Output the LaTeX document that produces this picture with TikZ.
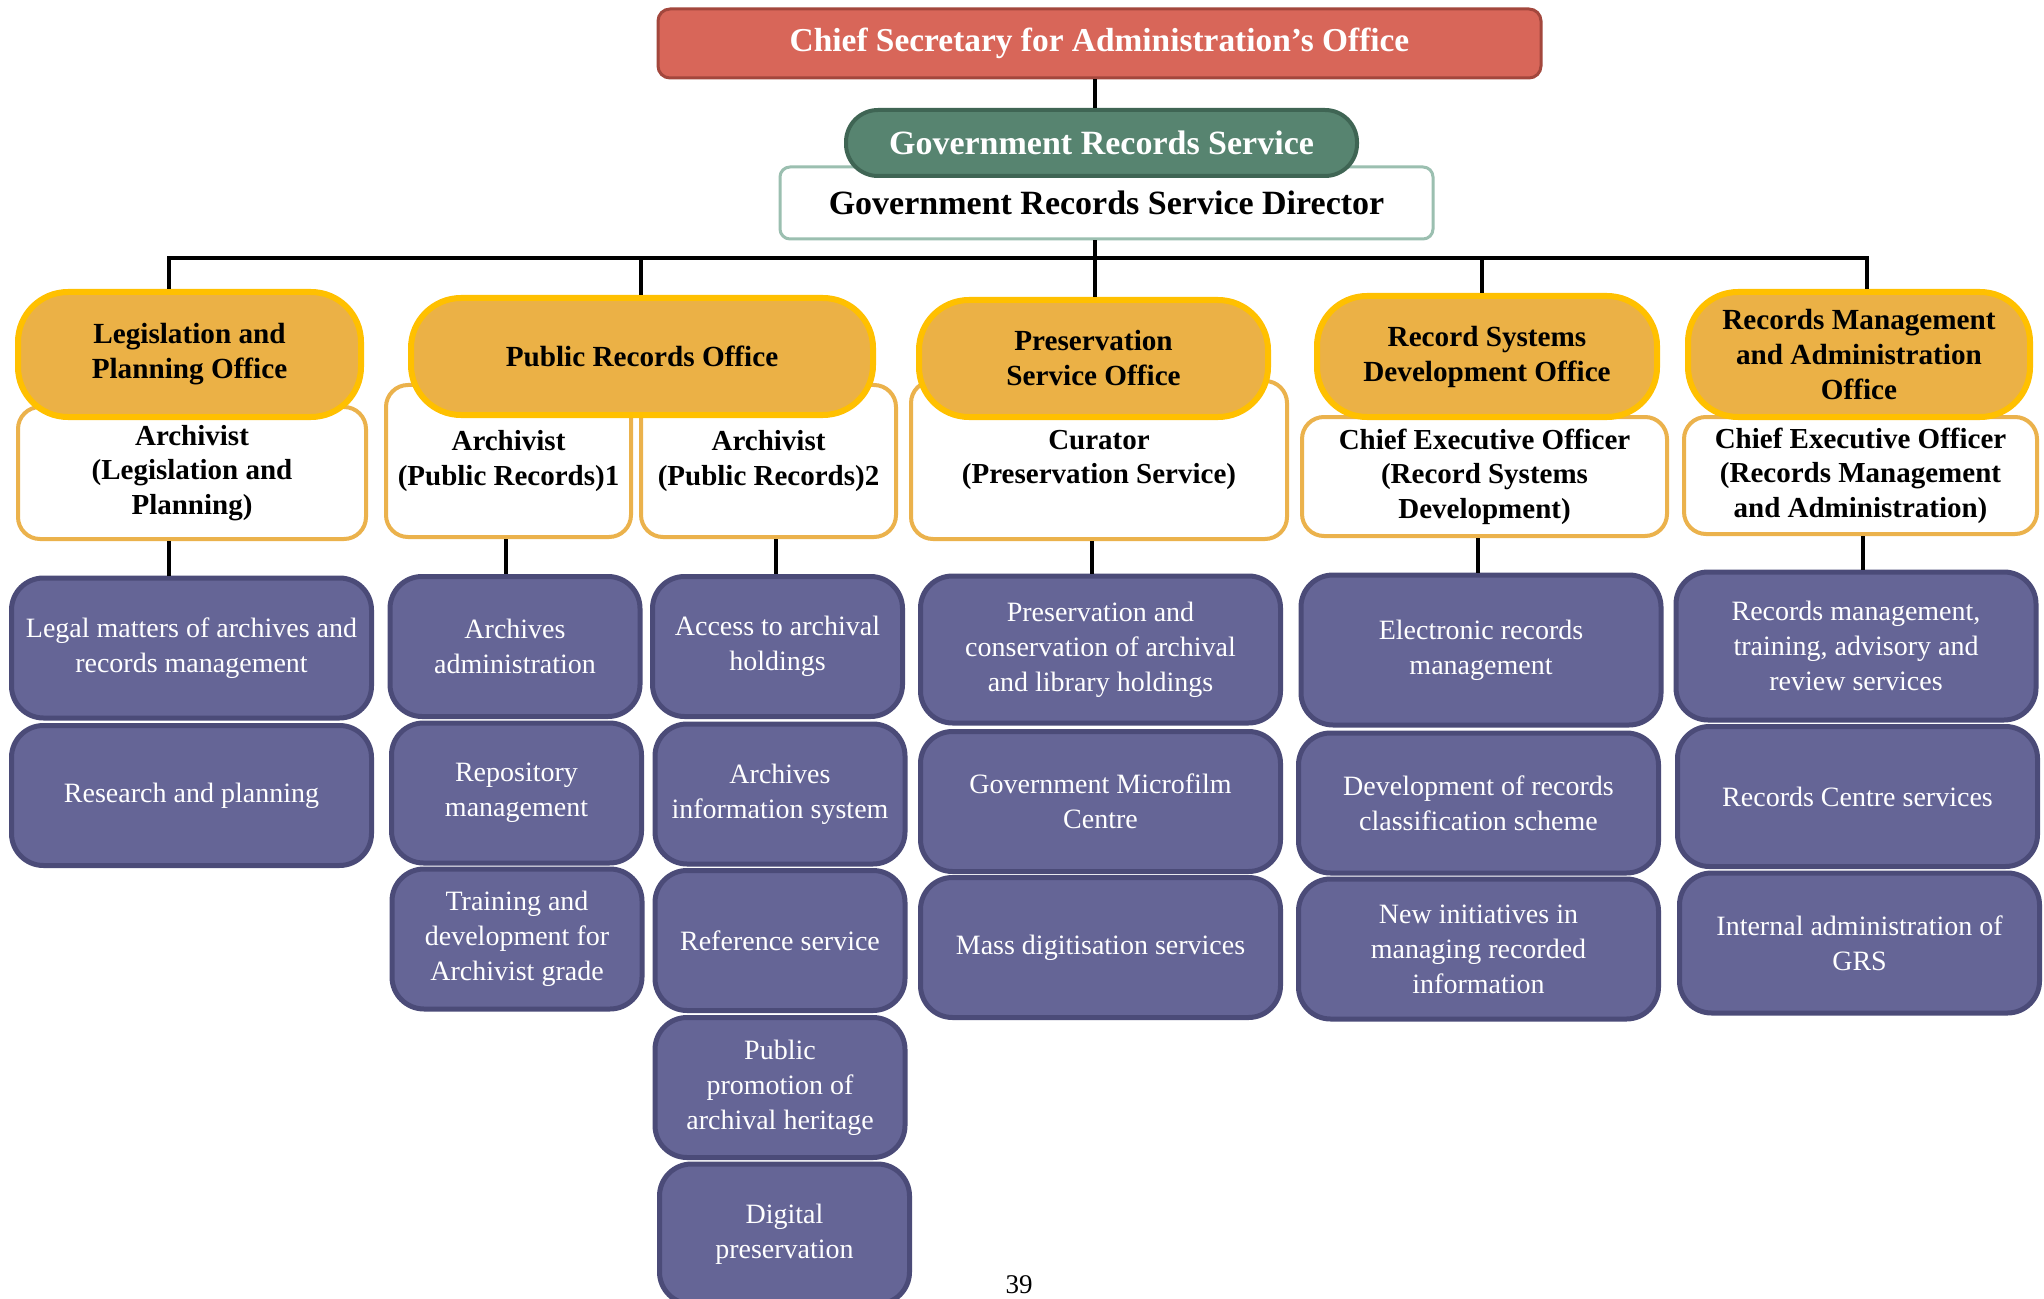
\documentclass[tikz,border=0pt]{standalone}
\usepackage{fontspec}
\setmainfont{Liberation Serif}
\definecolor{csred}{HTML}{D86659}
\definecolor{csedge}{HTML}{A3473D}
\definecolor{grsgreen}{HTML}{578470}
\definecolor{grsedge}{HTML}{3F6554}
\definecolor{diredge}{HTML}{9BBFB0}
\definecolor{officefill}{HTML}{EBB146}
\definecolor{officeedge}{HTML}{FFC000}
\definecolor{postedge}{HTML}{EBB24C}
\definecolor{taskfill}{HTML}{656596}
\definecolor{taskedge}{HTML}{4B4B78}
\begin{document}
\begin{tikzpicture}[x=0.5pt, y=-0.5pt, line width=1.6pt,
            head/.style={draw=csedge, fill=csred, line width=1.5pt, rounded corners=6pt, minimum width=441.5pt, minimum height=34.5pt, text=white, font=\bfseries\fontsize{16.7}{20}\selectfont},
            service/.style={draw=grsedge, fill=grsgreen, line width=2pt, rounded corners=16pt, minimum width=255.5pt, minimum height=33pt, text=white, font=\bfseries\fontsize{17}{20}\selectfont},
            director/.style={draw=diredge, fill=white, line width=1.5pt, rounded corners=5pt, minimum width=326.5pt, minimum height=36pt, font=\bfseries\fontsize{17}{20}\selectfont},
            office/.style={draw=officeedge, fill=officefill, line width=3pt, rounded corners=25pt, align=center, font=\bfseries\fontsize{14.6}{17.5}\selectfont},
            post/.style={draw=postedge, fill=white, line width=2pt, rounded corners=11pt, align=center, inner sep=3pt, font=\bfseries\fontsize{14.5}{17.3}\selectfont},
            task/.style={draw=taskedge, fill=taskfill, line width=2.5pt, rounded corners=16pt, minimum width=125pt, minimum height=70pt, align=center, text=white, font=\fontsize{14}{17.5}\selectfont},
            wide/.style={minimum width=180pt}
            ]
            \clip (0,0) rectangle (2044,1299);
            \fill[white] (0,0) rectangle (2044,1299);

            \node[head] (cs) at (1099.5,43.5) {Chief Secretary for Administration’s Office};
            \node[director] (dir) at (1106.5,203) {Government Records Service Director};
            \node[service] (grs) at (1101.5,143) {Government Records Service};

            \node[post, minimum width=174pt, minimum height=66pt] (p1) at (192,473) {Archivist\\(Legislation and\\Planning)};
            \node[post, minimum width=122.5pt, minimum height=76pt] (p2) at (508.5,461) {Archivist\\(Public Records)1};
            \node[post, minimum width=127.5pt, minimum height=76pt] (p3) at (768.5,461) {Archivist\\(Public Records)2};
            \node[post, minimum width=188pt, minimum height=79pt] (p4) at (1099,460) {Curator\\(Preservation Service)};
            \node[post, minimum width=182.5pt, minimum height=59.5pt] (p5) at (1484.5,476.5) {Chief Executive Officer\\(Record Systems\\Development)};
            \node[post, minimum width=176.5pt, minimum height=58.5pt] (p6) at (1860.5,475.5) {Chief Executive Officer\\(Records Management\\and Administration)};

            \node[office, minimum width=171.5pt, minimum height=62.5pt] (o1) at (189.5,354.5) {Legislation and\\Planning Office};
            \node[office, minimum width=231pt, minimum height=58.5pt] (o2) at (642,356.5) {Public Records Office};
            \node[office, minimum width=174.5pt, minimum height=58.5pt] (o3) at (1093.5,358.5) {Preservation\\Service Office};
            \node[office, minimum width=170pt, minimum height=60.5pt] (o4) at (1487,356.5) {Record Systems\\Development Office};
            \node[office, minimum width=171pt, minimum height=62.5pt] (o5) at (1859,354.5) {Records Management\\and Administration\\Office};

            \node[task, wide] (t11) at (191.5,648) {Legal matters of archives and\\records management};
            \node[task, wide] (t12) at (191.5,795.5) {Research and planning};

            \node[task] (t21) at (515,646.5) {Archives\\administration};
            \node[task] (t22) at (516.5,793) {Repository\\management};
            \node[task] (t23) at (517,939) {Training and\\development for\\Archivist grade};

            \node[task] (t31) at (777.5,646.5) {Access to archival\\holdings};
            \node[task] (t32) at (780,794) {Archives\\information system};
            \node[task] (t33) at (780,940.5) {Reference service};
            \node[task] (t34) at (780,1087.5) {Public\\promotion of\\archival heritage};
            \node[task] (t35) at (784.5,1234) {Digital\\preservation};

            \node[task, wide, minimum height=73.5pt] (t41) at (1100.5,649.5) {Preservation and\\conservation of archival\\and library holdings};
            \node[task, wide] (t42) at (1100.5,801.5) {Government Microfilm\\Centre};
            \node[task, wide] (t43) at (1100.5,947.5) {Mass digitisation services};

            \node[task, wide, minimum height=75pt] (t51) at (1481,650) {Electronic records\\management};
            \node[task, wide] (t52) at (1478.5,803) {Development of records\\classification scheme};
            \node[task, wide] (t53) at (1478.5,949) {New initiatives in\\managing recorded\\information};

            \node[task, wide, minimum height=74pt] (t61) at (1856,646) {Records management,\\training, advisory and\\review services};
            \node[task, wide] (t62) at (1857.5,796.5) {Records Centre services};
            \node[task, wide] (t63) at (1859.5,943) {Internal administration of\\GRS};

            \node[inner sep=0pt, font=\fontsize{13.5}{16}\selectfont] (pg) at (1019,1285) {39};

            \coordinate (b1) at (169,258);
            \coordinate (b2) at (641,258);
            \coordinate (b3) at (1095,258);
            \coordinate (b4) at (1482,258);
            \coordinate (b5) at (1867,258);
            \coordinate (d1) at (169,558);
            \coordinate (d2) at (506,558);
            \coordinate (d3) at (776,558);
            \coordinate (d4) at (1092,558);
            \coordinate (d5) at (1478,558);
            \coordinate (d6) at (1863,558);

            \draw (b3 |- cs.south) -- (b3 |- grs.north);
            \draw (b3 |- dir.south) -- (b3) -- (b3 |- o3.north);
            \draw (b1 |- o1.north) -- (b1) -- (b5) -- (b5 |- o5.north);
            \draw (b2) -- (b2 |- o2.north);
            \draw (b4) -- (b4 |- o4.north);

            \draw (d1 |- p1.south) -- (d1 |- t11.north);
            \draw (d2 |- p2.south) -- (d2 |- t21.north);
            \draw (d3 |- p3.south) -- (d3 |- t31.north);
            \draw (d4 |- p4.south) -- (d4 |- t41.north);
            \draw (d5 |- p5.south) -- (d5 |- t51.north);
            \draw (d6 |- p6.south) -- (d6 |- t61.north);

            \end{tikzpicture}
\end{document}
